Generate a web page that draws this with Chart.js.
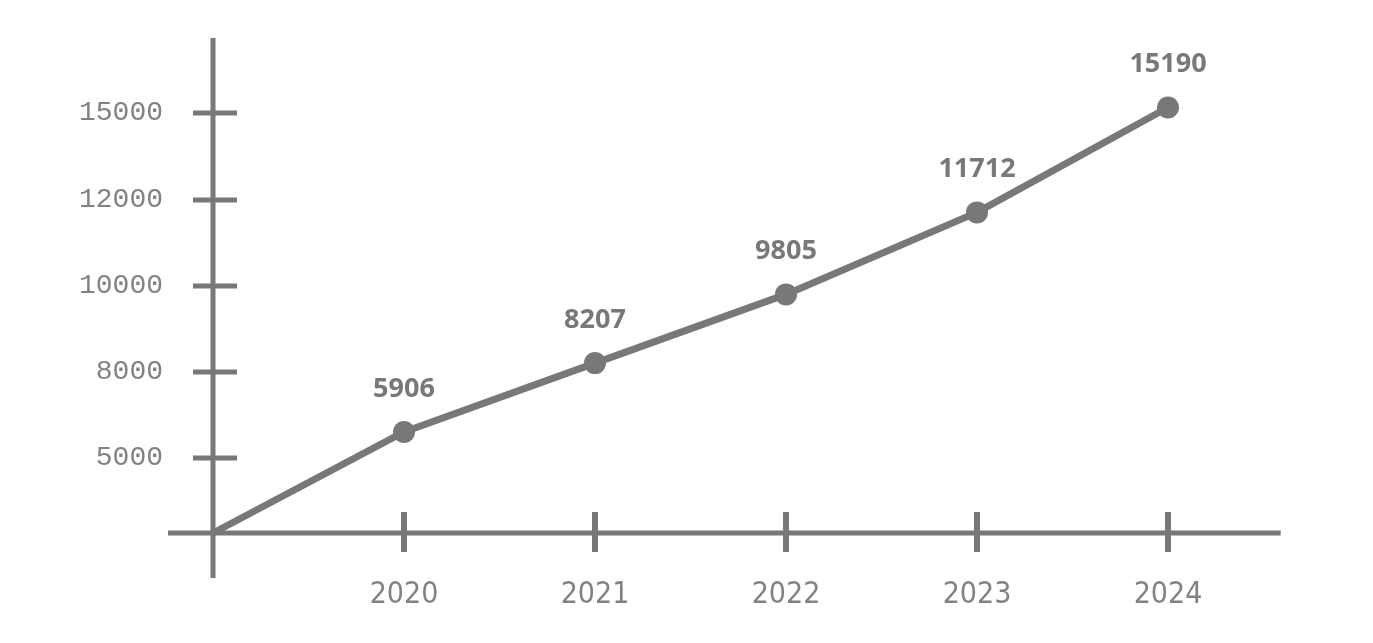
<!DOCTYPE html>
<html>
<head>
<meta charset="utf-8">
<script src="https://cdn.jsdelivr.net/npm/chart.js@4"></script>
<style>
  html, body { margin: 0; padding: 0; background: #fff; }
  #wrap { width: 1373px; height: 643px; position: relative; }
</style>
</head>
<body>
<div id="wrap"><canvas id="myChart"></canvas></div>
<script>
// values
var years = ['2020', '2021', '2022', '2023', '2024'];
var values = [5906, 8207, 9805, 11712, 15190];
var yTicks = [5000, 8000, 10000, 12000, 15000];

var ink = '#787878';

// y axis in the picture is not linear: ticks are evenly spaced,
// so the scale maps value -> pixel piece by piece between the stops
class StepScale extends Chart.LinearScale {
  buildTicks() {
    return this.options.tickValues.map(v => ({ value: v }));
  }
  _decimal(value) {
    var stops = this.options.stops, w = this.options.weights;
    var total = w.reduce((a, b) => a + b, 0);
    var acc = 0;
    for (var i = 0; i < stops.length - 1; i++) {
      if (value <= stops[i + 1] || i === stops.length - 2) {
        var f = (value - stops[i]) / (stops[i + 1] - stops[i]);
        return (acc + f * w[i]) / total;
      }
      acc += w[i];
    }
    return 1;
  }
  getPixelForValue(value) {
    if (value === null || value === undefined) return NaN;
    return this.getPixelForDecimal(this._decimal(value));
  }
  getValueForPixel(pixel) {
    var d = this.getDecimalForPixel(pixel);
    var stops = this.options.stops, w = this.options.weights;
    var total = w.reduce((a, b) => a + b, 0);
    var acc = 0;
    for (var i = 0; i < stops.length - 1; i++) {
      var seg = w[i] / total;
      if (d <= acc + seg || i === stops.length - 2) {
        return stops[i] + (d - acc) / seg * (stops[i + 1] - stops[i]);
      }
      acc += seg;
    }
    return stops[stops.length - 1];
  }
}
StepScale.id = 'step';
StepScale.defaults = {};
Chart.register(StepScale);

var labels = [''].concat(years).concat(['']);
var data = [0].concat(values);

function noPad(s) {
  s.paddingTop = 0; s.paddingBottom = 0;
  s.paddingLeft = 0; s.paddingRight = 0;
}

// hand drawn axes with cross ticks
var axesPlugin = {
  id: 'axes',
  beforeDatasetsDraw(chart) {
    var ctx = chart.ctx, xs = chart.scales.x, ys = chart.scales.y;
    var ox = xs.getPixelForValue(0), oy = ys.getPixelForValue(0);
    var step = xs.getPixelForValue(1) - ox;
    ctx.save();
    ctx.strokeStyle = ink;
    ctx.lineCap = 'butt';
    ctx.lineWidth = 5;
    ctx.beginPath();
    ctx.moveTo(ox, chart.chartArea.top);
    ctx.lineTo(ox, oy + 45);
    ctx.moveTo(ox - 45, oy);
    ctx.lineTo(xs.getPixelForValue(years.length) + step * 0.59, oy);
    ctx.stroke();
    ctx.lineWidth = 5;
    ctx.beginPath();
    yTicks.forEach(function (v) {
      var y = ys.getPixelForValue(v);
      ctx.moveTo(ox - 20, y);
      ctx.lineTo(ox + 24, y);
    });
    ctx.stroke();
    ctx.lineWidth = 6;
    ctx.beginPath();
    years.forEach(function (yr, i) {
      var x = xs.getPixelForValue(i + 1);
      ctx.moveTo(x, oy - 21);
      ctx.lineTo(x, oy + 19);
    });
    ctx.stroke();
    ctx.restore();
  },
  afterDatasetsDraw(chart) {
    var ctx = chart.ctx;
    var meta = chart.getDatasetMeta(0);
    ctx.save();
    ctx.fillStyle = ink;
    ctx.font = 'bold 27px "Open Sans", sans-serif';
    ctx.textAlign = 'center';
    ctx.textBaseline = 'middle';
    meta.data.forEach(function (pt, i) {
      if (i === 0) return;
      ctx.fillText(String(data[i]), pt.x, pt.y - 43);
    });
    ctx.restore();
  }
};

new Chart('myChart', {
  type: 'line',
  data: {
    labels: labels,
    datasets: [{
      data: data,
      borderColor: ink,
      borderWidth: 7,
      backgroundColor: ink,
      pointBackgroundColor: ink,
      pointBorderWidth: 0,
      pointRadius: data.map((v, i) => i === 0 ? 0 : 11),
      pointHoverRadius: 11,
      tension: 0,
      fill: false,
      clip: false
    }]
  },
  options: {
    responsive: true,
    maintainAspectRatio: false,
    animation: false,
    layout: { padding: { top: 38, right: 14, bottom: 0, left: 0 } },
    plugins: { legend: { display: false }, tooltip: { enabled: false } },
    scales: {
      x: {
        type: 'category',
        offset: false,
        grid: { display: false, drawTicks: false },
        border: { display: false },
        afterFit: function (s) { s.height = 110; noPad(s); },
        ticks: {
          autoSkip: false,
          maxRotation: 0,
          padding: 44,
          color: '#828282',
          font: { family: '"Liberation Sans Narrow", "DejaVu Sans Condensed", sans-serif', size: 30 }
        }
      },
      y: {
        type: 'step',
        min: 0,
        max: 17600,
        stops: [0, 5000, 8000, 10000, 12000, 15000, 17600],
        weights: [75, 86, 86, 86, 87, 75],
        tickValues: yTicks,
        grid: { display: false, drawTicks: false },
        border: { display: false },
        afterFit: function (s) { s.width = 213; noPad(s); },
        ticks: {
          padding: 50,
          color: '#828282',
          callback: function (v) { return String(v); },
          font: { family: '"Liberation Mono", "DejaVu Sans Mono", monospace', size: 28 }
        }
      }
    }
  },
  plugins: [axesPlugin]
});
</script>
</body>
</html>
